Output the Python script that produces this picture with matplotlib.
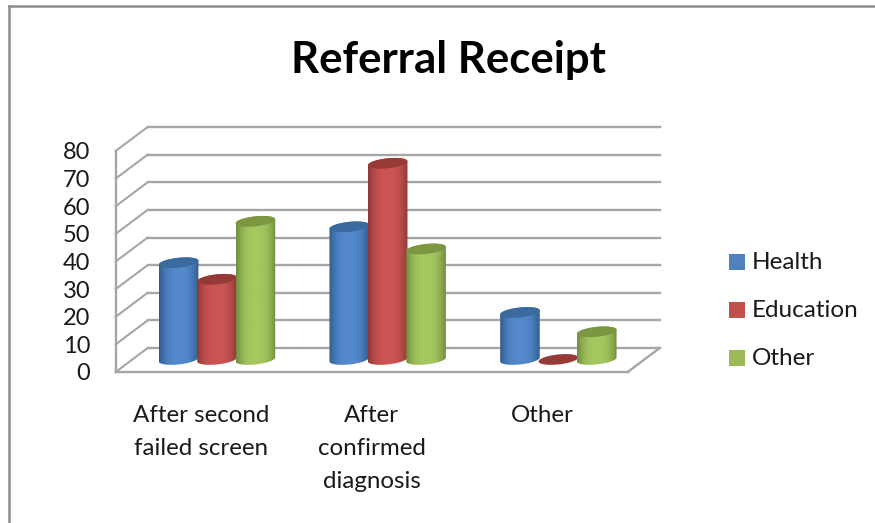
#!/usr/bin/env python3
import numpy as np
import matplotlib
matplotlib.use("Agg")
import matplotlib.pyplot as plt
from matplotlib.colors import LinearSegmentedColormap
from matplotlib.patches import Polygon

# Excel style 3D cylinder chart, faked on a 2D axes:
# x axis is in category units, y axis in value units (front wall scale)

categories = ["After second\nfailed screen", "After\nconfirmed\ndiagnosis", "Other"]
series = ["Health", "Education", "Other"]
health = [35, 48, 17]
education = [29, 71, 0]
other = [50, 40, 10]
yticks = [0, 10, 20, 30, 40, 50, 60, 70, 80]

W, H = 875, 523
PX_CAT = 170.67   # pixels per category
PX_VAL = 2.7625   # pixels per value unit
X0_PX = 201.0     # first category, front wall
Y0_PX = 372.0     # value 0, front wall
DEPTH_X = 32.0 / PX_CAT
DEPTH_Y = 24.0 / PX_VAL

plt.rcParams["font.family"] = ["Lato", "DejaVu Sans"]

fig = plt.figure(figsize=(W / 100, H / 100), dpi=100)
ax = fig.add_axes([0, 0, 1, 1])
ax.axis("off")

x_left = -0.5
x_right = len(categories) - 0.5
grid = "#a6a6a6"

# outer frame, in axes coordinates
ax.plot([9.3 / W, 9.3 / W], [0, 1 - 6.2 / H], color="#8c8c8c", lw=1.8, transform=ax.transAxes, solid_capstyle="projecting")
ax.plot([9.3 / W, 1], [1 - 6.2 / H, 1 - 6.2 / H], color="#8c8c8c", lw=1.8, transform=ax.transAxes)

# walls and gridlines
for v in yticks:
    ax.plot([x_left + DEPTH_X, x_right + DEPTH_X], [v + DEPTH_Y, v + DEPTH_Y], color=grid, lw=1.7, zorder=1)
    ax.plot([x_left, x_left + DEPTH_X], [v, v + DEPTH_Y], color=grid, lw=1.5, zorder=1)
    ax.text(x_left - 0.148, v - 0.7, str(v), ha="right", va="center", fontsize=17, color="#1a1a1a")
ax.plot([x_left, x_left], [0, yticks[-1]], color=grid, lw=1.7, zorder=1)
ax.plot([x_left, x_right], [0, 0], color=grid, lw=1.7, zorder=1)
ax.plot([x_right, x_right + DEPTH_X], [0, DEPTH_Y], color=grid, lw=1.7, zorder=1)


def cylinder(xc, val, width, c_edge, c_mid, c_top, z):
    a = width / 2
    b = 5.0 / PX_VAL        # ellipse half height
    s = 2.0 / PX_VAL        # tilt, right side sits higher
    base = DEPTH_Y / 2 + 0.2
    t = np.linspace(0, 2 * np.pi, 80)
    ex = a * np.cos(t)
    ey = b * np.sin(t) + s * np.cos(t)
    top = base + val
    if val > 0:
        # body outline: lower half of the base, then upper half of the top
        lo = t[(t >= np.pi)]
        up = t[(t <= np.pi)]
        px = np.r_[xc + a * np.cos(lo), xc + a * np.cos(up)]
        py = np.r_[base + b * np.sin(lo) + s * np.cos(lo), top + b * np.sin(up) + s * np.cos(up)]
        body = Polygon(np.c_[px, py], closed=True, fc="none", ec="none", zorder=z)
        ax.add_patch(body)
        g = np.abs(np.linspace(-1, 1, 256)) ** 2.6
        g = (1 - g)[None, :]
        im = ax.imshow(g, cmap=LinearSegmentedColormap.from_list("c", [c_edge, c_mid]), aspect="auto",
                       extent=(xc - a, xc + a, base - b - s, top + b + s), zorder=z, interpolation="bilinear")
        im.set_clip_path(body)
    ax.add_patch(Polygon(np.c_[xc + ex, top + ey], closed=True, fc=c_top, ec="none", zorder=z + 0.1))


colors = [("#2f5a8c", "#5389cd", "#3a6a9e"),
          ("#8c3735", "#cc5553", "#963a38"),
          ("#6f8a3e", "#a6c85f", "#7c9642")]
values = [health, education, other]
offsets = [-0.225, 0.0, 0.225]
bar_w = 0.232

for i in range(len(categories)):
    for j in range(len(series)):
        xc = i + offsets[j] + DEPTH_X / 2
        cylinder(xc, values[j][i], bar_w, colors[j][0], colors[j][1], colors[j][2], 3 + j)

ax.set_xlim((0 - X0_PX) / PX_CAT, (W - X0_PX) / PX_CAT)
ax.set_ylim((Y0_PX - H) / PX_VAL, Y0_PX / PX_VAL)

# category labels
for i, c in enumerate(categories):
    ax.text(i, -12.0, c, ha="center", va="top", fontsize=17.4, color="#1a1a1a", linespacing=1.7)

# title
fig.text(448 / W, 1 - 60 / H, "Referral Receipt", ha="center", va="center",
         fontsize=31.5, fontweight="bold", color="black")

# legend
leg_y = [261, 309, 357]
leg_c = ["#4f81bd", "#c0504d", "#9bbb59"]
for name, y, c in zip(series, leg_y, leg_c):
    fig.patches.append(plt.Rectangle((729 / W, 1 - (y + 9) / H), 16 / W, 16 / H, fc=c, ec="none",
                                     transform=fig.transFigure))
    fig.text(752 / W, 1 - (y + 1.5) / H, name, ha="left", va="center", fontsize=17.5, color="#1a1a1a")

fig.savefig("out.png", dpi=100)
